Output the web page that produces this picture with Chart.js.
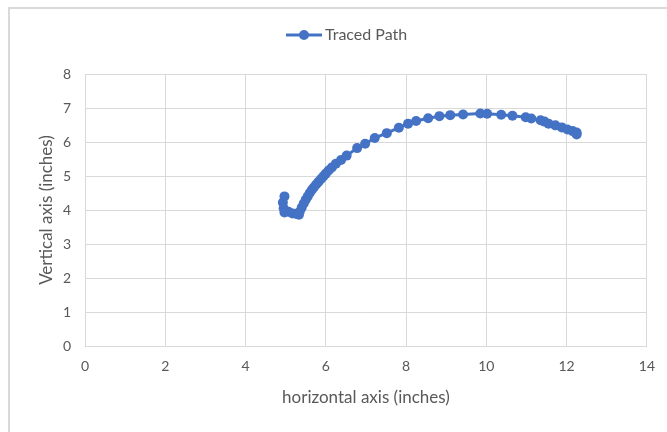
<!DOCTYPE html>
<html>
<head>
<meta charset="utf-8">
<script src="https://cdn.jsdelivr.net/npm/chart.js@4/dist/chart.umd.min.js"></script>
<style>
  html, body { margin: 0; padding: 0; background: #fff; }
  #wrap { position: relative; width: 667px; height: 432px; }
  #frame { position: absolute; left: 8px; top: 7px; right: 0; bottom: 0;
           border-top: 2px solid #d9d9d9; border-left: 2px solid #d9d9d9; }
  canvas { position: absolute; left: 0; top: 0; }
</style>
</head>
<body>
<div id="wrap">
  <div id="frame"></div>
  <canvas id="c" width="667" height="432"></canvas>
</div>
<script>
// traced path (inches)
const seriesName = 'Traced Path';
const xs = [4.97, 4.93, 4.95, 4.97, 5.07, 5.17, 5.27, 5.33, 5.35, 5.40, 5.45, 5.50, 5.55, 5.60, 5.65,
            5.70, 5.76, 5.82, 5.88, 5.94, 6.00, 6.07, 6.15, 6.25, 6.38, 6.52, 6.78, 6.98, 7.22, 7.52,
            7.82, 8.05, 8.25, 8.55, 8.83, 9.10, 9.42, 9.85, 10.02, 10.37, 10.65, 10.98, 11.12, 11.35,
            11.45, 11.55, 11.72, 11.88, 12.02, 12.15, 12.25, 12.25];
const ys = [4.40, 4.22, 4.05, 3.93, 3.95, 3.90, 3.88, 3.86, 3.95, 4.07, 4.19, 4.30, 4.40, 4.50, 4.59,
            4.66, 4.75, 4.83, 4.91, 4.99, 5.07, 5.16, 5.25, 5.36, 5.47, 5.60, 5.82, 5.95, 6.12, 6.26,
            6.42, 6.54, 6.62, 6.70, 6.76, 6.79, 6.81, 6.84, 6.83, 6.80, 6.77, 6.73, 6.69, 6.64,
            6.60, 6.54, 6.49, 6.43, 6.37, 6.32, 6.28, 6.22];
const xTitle = 'horizontal axis (inches)';
const yTitle = 'Vertical axis (inches)';

const points = xs.map((x, i) => ({ x: x, y: ys[i] }));
const blue = '#4472c4';
const grid = '#d9d9d9';
const txt = '#595959';
const fam = 'Lato, "Open Sans", sans-serif';

// legend drawn by hand: line with a dot, then the name
const legendDraw = {
  id: 'legendDraw',
  afterDraw(chart) {
    const ctx = chart.ctx;
    const y = 35;
    ctx.save();
    ctx.strokeStyle = blue;
    ctx.lineWidth = 3;
    ctx.beginPath();
    ctx.moveTo(286, y);
    ctx.lineTo(322, y);
    ctx.stroke();
    ctx.fillStyle = blue;
    ctx.beginPath();
    ctx.arc(304, y, 5, 0, Math.PI * 2);
    ctx.fill();
    ctx.fillStyle = txt;
    ctx.font = '16px ' + fam;
    ctx.textBaseline = 'middle';
    ctx.textAlign = 'left';
    ctx.fillText(seriesName, 325, y);
    ctx.restore();
  }
};

new Chart(document.getElementById('c'), {
  type: 'scatter',
  data: {
    datasets: [{
      label: seriesName,
      data: points,
      showLine: true,
      borderColor: blue,
      backgroundColor: blue,
      borderWidth: 3,
      pointRadius: 5,
      pointBorderWidth: 0,
      pointHoverRadius: 5
    }]
  },
  options: {
    responsive: false,
    animation: false,
    layout: { padding: { left: 10, right: 19, top: 74, bottom: 0 } },
    plugins: {
      tooltip: { enabled: false },
      legend: { display: false }
    },
    scales: {
      x: {
        type: 'linear',
        min: 0, max: 14,
        ticks: { stepSize: 2, color: txt, font: { family: fam, size: 14 }, padding: 12 },
        grid: { color: grid, drawTicks: false },
        border: { color: grid },
        title: { display: true, text: xTitle, color: txt, font: { family: fam, size: 17 },
                 padding: { top: 0, bottom: 24 } },
        afterFit(s) { s.height = 86; }
      },
      y: {
        min: 0, max: 8,
        ticks: { stepSize: 1, color: txt, font: { family: fam, size: 14 }, padding: 14 },
        grid: { color: grid, drawTicks: false },
        border: { color: grid },
        title: { display: true, text: yTitle, color: txt, font: { family: fam, size: 17 },
                 padding: { top: 26, bottom: 0 } },
        afterFit(s) { s.width = 75; }
      }
    }
  },
  plugins: [legendDraw]
});
</script>
</body>
</html>
